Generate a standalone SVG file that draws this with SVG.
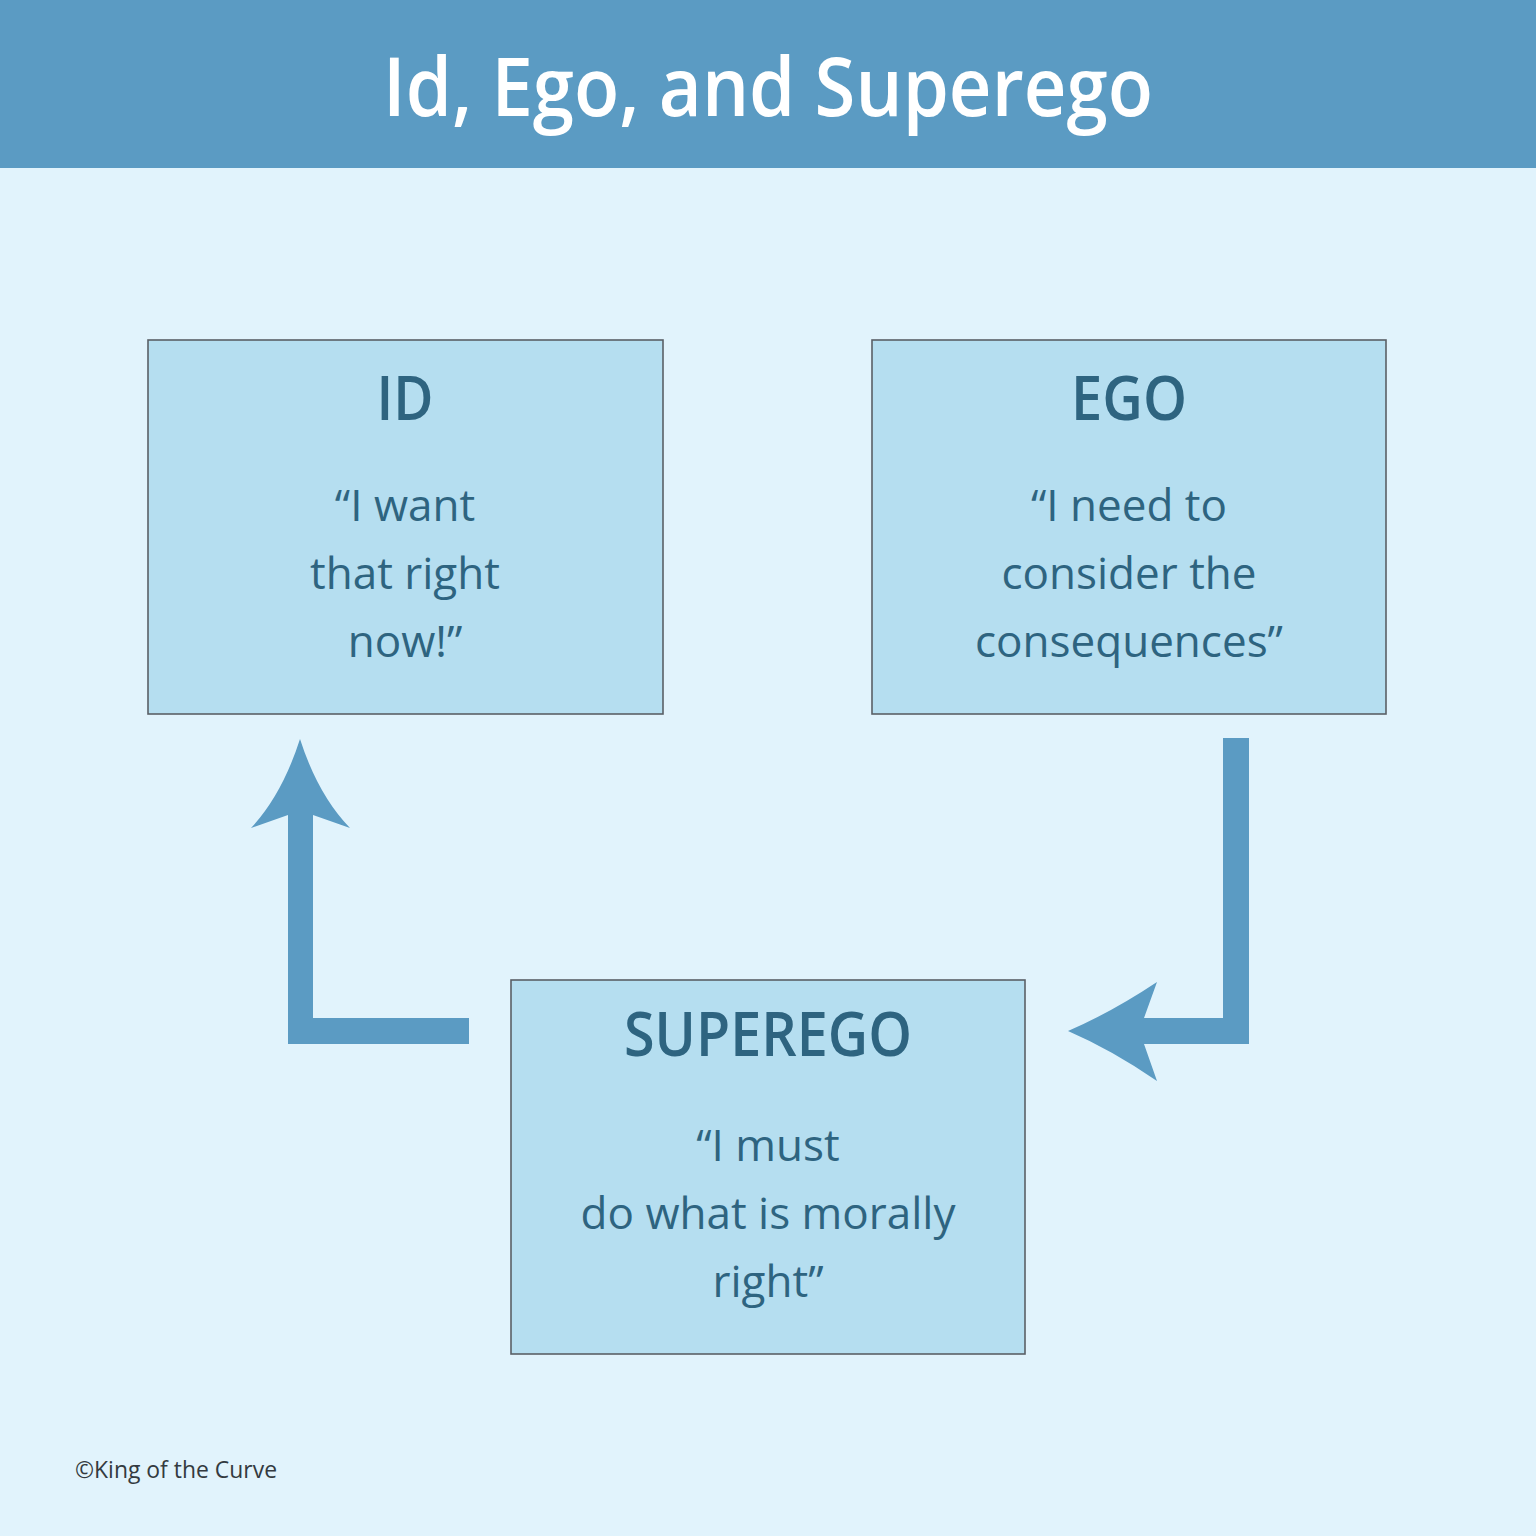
<svg xmlns="http://www.w3.org/2000/svg" width="1536" height="1536" viewBox="0 0 1536 1536">
<style>
.box{fill:#b5def0;stroke:#5a5f66;stroke-width:1.6}
.hd{font-family:"Open Sans","Noto Sans",sans-serif;font-size:61px;font-weight:600;fill:#2e6480;text-anchor:middle}
.q{font-family:"Open Sans","Noto Sans",sans-serif;font-size:44px;fill:#2e6480;text-anchor:middle}
.arr{fill:#5b9bc3}
</style>
<rect x="0" y="0" width="1536" height="1536" fill="#e1f3fc"/>
<rect x="0" y="0" width="1536" height="168" fill="#5b9bc3"/>
<text x="768" y="116" font-family="'Open Sans','Noto Sans',sans-serif" font-size="82" font-weight="600" fill="#ffffff" text-anchor="middle" textLength="770" lengthAdjust="spacingAndGlyphs">Id, Ego, and Superego</text>
<g id="id">
<rect class="box" x="148" y="340" width="515" height="374"/>
<text class="hd" x="405" y="420" textLength="57" lengthAdjust="spacingAndGlyphs">ID</text>
<text class="q" x="405" y="521">“I want</text>
<text class="q" x="405" y="589">that right</text>
<text class="q" x="405" y="657">now!”</text>
</g>
<g id="ego">
<rect class="box" x="872" y="340" width="514" height="374"/>
<text class="hd" x="1129" y="420" textLength="116" lengthAdjust="spacingAndGlyphs">EGO</text>
<text class="q" x="1129" y="521">“I need to</text>
<text class="q" x="1129" y="589">consider the</text>
<text class="q" x="1129" y="657">consequences”</text>
</g>
<g id="superego">
<rect class="box" x="511" y="980" width="514" height="374"/>
<text class="hd" x="768" y="1056" textLength="288" lengthAdjust="spacingAndGlyphs">SUPEREGO</text>
<text class="q" x="768" y="1161">“I must</text>
<text class="q" x="768" y="1229">do what is morally</text>
<text class="q" x="768" y="1297">right”</text>
</g>
<g id="connectors">
<path class="arr" d="M300,739 Q318,795 350,828 L313,815 L313,1018 L469,1018 L469,1044 L288,1044 L288,815 L251,828 Q282,795 300,739 Z"/>
<path class="arr" d="M1223,738 L1249,738 L1249,1044 L1144,1044 L1157,1081 Q1112,1050 1068,1031 Q1112,1012 1157,982 L1144,1018 L1223,1018 Z"/>
</g>
<text x="75" y="1478" font-family="'Open Sans','Noto Sans',sans-serif" font-size="23" fill="#333a40" textLength="202" lengthAdjust="spacingAndGlyphs">©King of the Curve</text>
</svg>
